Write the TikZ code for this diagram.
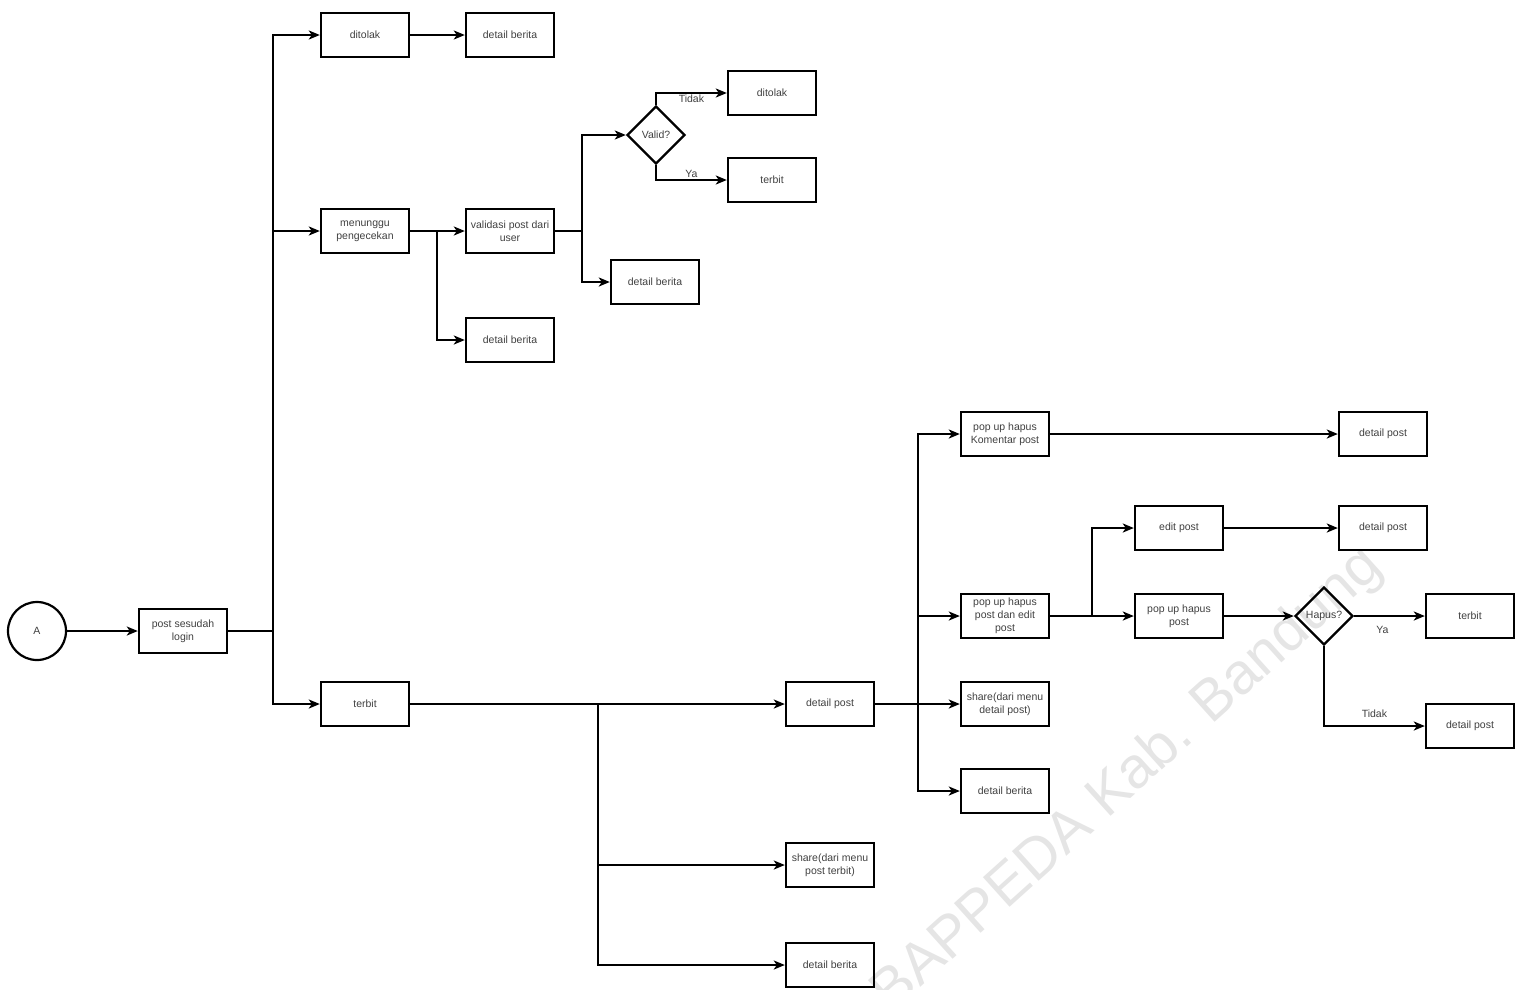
\documentclass[tikz,border=0pt]{standalone}
\usepackage{fontspec}
\setmainfont{Liberation Sans}
\usetikzlibrary{arrows.meta,shapes.geometric}
\begin{document}
\begin{tikzpicture}[x=1pt,y=-1pt,
  box/.style={draw, line width=2.4pt, minimum width=88pt, minimum height=44pt, inner sep=1pt, align=center, font=\fontsize{10.5}{13}\selectfont, text=black!75},
  dec/.style={draw, diamond, aspect=1, line width=2.4pt, minimum width=58pt, minimum height=58pt, inner sep=0pt, font=\fontsize{10.5}{13}\selectfont, text=black!75},
  startc/.style={draw, circle, line width=2.2pt, minimum size=58pt, inner sep=0pt, font=\fontsize{10.5}{13}\selectfont, text=black!75},
  arr/.style={draw, line width=2pt, -{Stealth[length=11pt,width=9pt,inset=3pt]}},
  ln/.style={draw, line width=2pt},
  lbl/.style={font=\fontsize{10.5}{13}\selectfont, text=black!75, inner sep=1pt}]
\useasboundingbox (0,0) rectangle (1525,989);
% watermark
\node[rotate=42, anchor=base, inner sep=0pt, text=gray!20, font=\fontsize{58}{58}\selectfont] (wm) at (1138,792) {BAPPEDA Kab. Bandung};
% nodes
\node[startc] (A) at (37,631) {A};
\node[box] (post) at (183,631) {post sesudah\\login};
\node[box] (tolak1) at (365,35) {ditolak};
\node[box] (db1) at (510,35) {detail berita};
\node[box] (tunggu) at (365,231) {menunggu\\pengecekan};
\node[box] (valid) at (510,231) {validasi post dari\\user};
\node[box] (db2) at (510,340) {detail berita};
\node[dec] (isvalid) at (656,135) {Valid?};
\node[box] (db3) at (655,282) {detail berita};
\node[box] (tolak2) at (772,93) {ditolak};
\node[box] (terbit2) at (772,180) {terbit};
\node[box] (terbit1) at (365,704) {terbit};
\node[box] (dpost) at (830,704) {detail post};
\node[box] (share1) at (830,865) {share(dari menu\\post terbit)};
\node[box] (db4) at (830,965) {detail berita};
\node[box] (komen) at (1005,434) {pop up hapus\\Komentar post};
\node[box] (popedit) at (1005,616) {pop up hapus\\post dan edit\\post};
\node[box] (share2) at (1005,704) {share(dari menu\\detail post)};
\node[box] (db5) at (1005,791) {detail berita};
\node[box] (dp1) at (1383,434) {detail post};
\node[box] (edit) at (1179,528) {edit post};
\node[box] (pophapus) at (1179,616) {pop up hapus\\post};
\node[box] (dp2) at (1383,528) {detail post};
\node[dec] (ishapus) at (1324,616) {Hapus?};
\node[box] (terbit3) at (1470,616) {terbit};
\node[box] (dp3) at (1470,726) {detail post};
% junction coordinates
\coordinate (j1) at (273,631);
\coordinate (j2) at (437,231);
\coordinate (j3) at (582,231);
\coordinate (j4) at (598,704);
\coordinate (j5) at (918,704);
\coordinate (j6) at (1092,616);
% connectors
\draw[arr] (A) -- (post);
\draw[ln] (post.east) -- (j1);
\draw[arr] (j1) |- (tolak1.west);
\draw[arr] (j1) |- (tunggu.west);
\draw[arr] (j1) |- (terbit1.west);
\draw[arr] (tolak1) -- (db1);
\draw[arr] (tunggu) -- (valid);
\draw[arr] (j2) |- (db2.west);
\draw[ln] (valid.east) -- (j3);
\draw[arr] (j3) |- (isvalid.west);
\draw[arr] (j3) |- (db3.west);
\draw[arr] (isvalid.north) |- node[lbl, pos=0.75, below] {Tidak} (tolak2.west);
\draw[arr] (isvalid.south) |- node[lbl, pos=0.75, above] {Ya} (terbit2.west);
\draw[arr] (terbit1) -- (dpost);
\draw[arr] (j4) |- (share1.west);
\draw[arr] (j4) |- (db4.west);
\draw[ln] (dpost.east) -- (j5);
\draw[arr] (j5) |- (komen.west);
\draw[arr] (j5) |- (popedit.west);
\draw[arr] (j5) -- (share2.west);
\draw[arr] (j5) |- (db5.west);
\draw[arr] (komen) -- (dp1);
\draw[arr] (popedit) -- (pophapus);
\draw[arr] (j6) |- (edit.west);
\draw[arr] (edit) -- (dp2);
\draw[arr] (pophapus) -- (ishapus);
\draw[arr] (ishapus) -- node[lbl, pos=0.4, below=8pt] {Ya} (terbit3);
\draw[arr] (ishapus.south) |- node[lbl, pos=0.75, above=6pt] {Tidak} (dp3.west);
\end{tikzpicture}
\end{document}
